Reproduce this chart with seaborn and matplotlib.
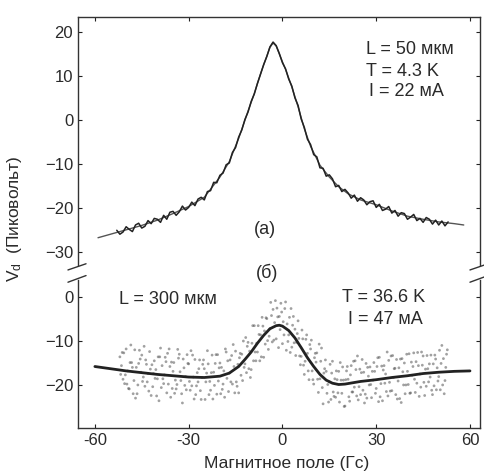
import numpy as np
import pandas as pd
import matplotlib
matplotlib.use("Agg")
import matplotlib.pyplot as plt
import seaborn as sns

# ---------------- data ----------------
# panel (a): L = 50 мкм, measured trace (1 Гс steps) and smooth fit
a_field = list(range(-53, 54))
a_signal = [
    -25.1, -26.0, -25.5, -24.3, -24.9, -25.4, -23.9, -23.5, -24.6, -24.2,
    -22.9, -23.6, -22.4, -22.6, -23.3, -21.7, -22.6, -21.0, -20.8, -21.7,
    -20.9, -19.6, -20.5, -19.9, -18.7, -19.5, -18.0, -17.6, -18.2, -16.3,
    -16.1, -14.2, -14.3, -12.6, -12.1, -10.2, -9.8, -7.4, -6.3, -3.9,
    -2.3, 0.1, 1.8, 4.2, 5.9, 8.3, 10.4, 12.6, 14.4, 16.6,
    17.7, 16.9, 15.1, 13.0, 11.6, 9.3, 7.7, 5.0, 3.3, 0.2,
    -1.7, -4.4, -5.6, -7.9, -8.4, -10.9, -11.0, -12.8, -12.5, -13.4,
    -15.2, -14.9, -16.3, -15.8, -16.6, -17.8, -17.1, -18.5, -17.7, -18.2,
    -19.3, -18.6, -18.4, -19.9, -19.2, -20.6, -20.3, -19.7, -21.2, -20.6,
    -21.9, -21.1, -21.3, -22.6, -22.1, -21.5, -22.9, -22.4, -23.3, -22.2,
    -22.6, -23.7, -22.8, -23.9, -23.0, -24.1, -23.2,
]
a_fit_field = [-59, -55, -50, -45, -40, -35, -30, -25, -20, -17, -14, -11, -9, -7,
               -5, -4, -3, -2, -1, 0, 1, 3, 5, 7, 9, 12, 15, 18, 21, 25, 30, 35,
               40, 45, 50, 55, 58]
a_fit = [-26.8, -26.0, -25.0, -24.0, -22.8, -21.3, -19.7, -17.6, -13.0, -9.5,
         -4.2, 2.0, 6.0, 10.5, 14.5, 16.5, 17.5, 16.8, 15.0, 13.2, 11.5, 7.5,
         3.0, -2.0, -6.0, -10.3, -13.0, -15.2, -16.8, -18.2, -19.3, -20.7,
         -21.9, -22.6, -23.2, -23.6, -23.9]

# panel (б): L = 300 мкм, four sweeps of noisy points and smooth fit
b_field_a = [x for x in range(-52, 53)]
b_field_b = [x + 0.25 for x in range(-52, 53)]
b_field_c = [x + 0.5 for x in range(-52, 53)]
b_field_d = [x + 0.75 for x in range(-52, 53)]
b_sweep_a = [
    -13.6, -18.7, -11.8, -20.9, -16.0, -23.0, -15.1, -13.2, -20.3, -17.4,
    -22.4, -14.5, -18.6, -11.6, -19.7, -21.8, -15.8, -16.9, -20.9, -13.0,
    -24.1, -18.1, -15.2, -20.2, -14.2, -19.3, -23.3, -16.3, -12.2, -21.2,
    -17.1, -22.1, -15.0, -19.8, -12.5, -17.3, -19.8, -12.3, -21.8, -13.0,
    -15.2, -10.3, -16.5, -6.5, -12.5, -8.6, -13.7, -4.9, -7.2, -2.8,
    -9.5, -4.4, -10.6, -1.1, -8.6, -11.4, -7.3, -5.4, -13.5, -17.6,
    -12.8, -11.8, -19.8, -12.7, -18.6, -24.3, -16.9, -19.3, -14.6, -22.8,
    -16.9, -21.9, -24.8, -18.7, -15.6, -20.5, -13.4, -22.2, -17.1, -23.0,
    -15.9, -18.9, -20.8, -13.7, -23.6, -17.5, -14.4, -21.3, -16.2, -19.1,
    -24.0, -15.0, -16.9, -21.8, -12.7, -19.6, -17.5, -13.4, -20.3, -15.2,
    -22.2, -14.1, -18.1, -11.0, -19.0,
]
b_sweep_b = [
    -17.6, -12.7, -19.8, -14.9, -22.0, -16.0, -12.1, -19.2, -14.3, -21.4,
    -15.4, -18.5, -13.6, -20.6, -17.7, -12.8, -22.8, -14.9, -19.9, -17.0,
    -14.1, -21.1, -19.2, -13.2, -22.2, -16.3, -18.3, -23.3, -15.2, -17.2,
    -20.1, -13.1, -22.0, -16.8, -18.5, -14.3, -10.8, -19.3, -13.8, -19.0,
    -9.2, -16.3, -10.5, -12.5, -6.5, -13.6, -7.7, -9.9, -1.2, -9.8,
    -2.5, -7.4, -5.6, -12.1, -4.6, -6.4, -13.3, -9.4, -7.5, -14.6,
    -16.8, -9.8, -13.8, -18.7, -14.6, -17.3, -21.9, -15.3, -21.6, -16.8,
    -23.9, -15.9, -18.8, -22.7, -21.6, -14.5, -23.4, -17.2, -24.1, -16.0,
    -19.9, -14.9, -15.8, -22.7, -16.6, -21.5, -19.4, -13.3, -22.2, -16.1,
    -14.0, -22.0, -19.9, -14.8, -18.7, -12.6, -20.5, -19.4, -13.3, -18.2,
    -15.2, -21.1, -12.1, -20.0, -16.0,
]
b_sweep_c = [
    -15.6, -19.7, -16.8, -10.9, -19.0, -22.0, -14.1, -18.2, -15.3, -12.4,
    -20.4, -16.5, -23.6, -15.6, -13.7, -19.8, -14.8, -21.9, -11.9, -19.0,
    -16.1, -13.1, -21.2, -18.2, -20.2, -14.3, -15.3, -19.3, -22.2, -13.2,
    -15.1, -19.1, -16.0, -22.8, -14.5, -19.3, -15.8, -20.3, -12.8, -10.0,
    -17.2, -12.3, -6.5, -14.5, -8.5, -4.6, -10.7, -11.9, -4.2, -5.8,
    -4.5, -1.4, -8.6, -6.1, -12.6, -4.4, -10.3, -13.4, -9.5, -9.6,
    -18.8, -16.8, -12.8, -21.7, -11.6, -16.3, -19.9, -23.3, -22.6, -18.8,
    -14.9, -18.9, -16.8, -23.7, -21.6, -16.5, -20.4, -14.2, -22.1, -18.0,
    -22.9, -16.9, -13.8, -19.7, -15.6, -12.5, -21.4, -18.3, -14.2, -23.1,
    -17.0, -20.0, -12.9, -17.8, -21.7, -15.6, -12.5, -22.4, -16.3, -13.2,
    -20.2, -16.1, -21.1, -14.0, -13.0,
]
b_sweep_d = [
    -12.6, -17.7, -20.8, -14.9, -12.0, -20.0, -17.1, -11.2, -19.3, -16.4,
    -17.4, -22.5, -13.6, -18.6, -14.7, -11.8, -20.8, -18.9, -13.9, -22.0,
    -20.1, -15.1, -12.2, -23.2, -17.2, -21.3, -14.3, -17.3, -19.2, -23.2,
    -13.1, -16.1, -21.0, -11.8, -21.5, -13.3, -21.8, -15.3, -17.8, -16.0,
    -11.2, -18.3, -14.5, -10.5, -14.5, -6.6, -4.7, -8.9, -10.2, -0.8,
    -11.5, -3.4, -2.6, -10.1, -2.6, -10.4, -8.3, -15.4, -15.5, -8.6,
    -10.8, -18.8, -14.8, -10.7, -20.6, -14.3, -23.9, -17.3, -18.6, -21.8,
    -18.9, -24.9, -15.8, -17.7, -14.6, -22.5, -16.4, -21.2, -15.1, -20.0,
    -16.9, -21.9, -23.8, -15.7, -19.6, -22.5, -13.4, -16.3, -23.2, -14.1,
    -20.0, -13.0, -21.9, -15.8, -14.7, -22.6, -15.5, -16.4, -19.3, -21.2,
    -13.2, -19.1, -15.1, -22.0, -12.0,
]
b_fit_field = [-60, -55, -50, -45, -40, -35, -30, -25, -20, -17, -14, -12, -10,
               -8, -6, -4, -2, -1, 0, 2, 4, 6, 8, 10, 12, 14, 16, 18, 20, 25,
               30, 35, 40, 45, 50, 55, 60]
b_fit = [-15.8, -16.3, -16.8, -17.2, -17.6, -17.9, -18.2, -18.3, -18.0, -17.3,
         -15.8, -14.2, -12.5, -10.5, -8.7, -7.2, -6.5, -6.4, -6.6, -7.6, -9.3,
         -11.5, -13.8, -15.8, -17.6, -18.9, -19.6, -19.9, -19.8, -19.2, -18.8,
         -18.3, -17.9, -17.4, -17.1, -16.9, -16.8]

x_ticks = [-60, -30, 0, 30, 60]
a_yticks = [-30, -20, -10, 0, 10, 20]
b_yticks = [-20, -10, 0]

# ---------------- style ----------------
sns.set_style("ticks")
plt.rcParams['font.family'] = ['Liberation Sans', 'DejaVu Sans']
plt.rcParams['mathtext.fontset'] = 'custom'
plt.rcParams['mathtext.rm'] = 'Liberation Sans'
plt.rcParams['mathtext.it'] = 'Liberation Sans:italic'
INK = '#222222'
TXT = '#2a2a2a'

W, H = 485, 473
fig = plt.figure(figsize=(W / 100, H / 100), dpi=100)


def fx(px):
    return px / W


def fy(py):
    return 1 - py / H


left, right = 78, 480
ax1 = fig.add_axes([fx(left), fy(265), (right - left) / W, (265 - 17) / H])
ax2 = fig.add_axes([fx(left), fy(428), (right - left) / W, (428 - 280) / H])

df_a = pd.DataFrame({'field': a_field, 'signal': a_signal})
df_afit = pd.DataFrame({'field': a_fit_field, 'signal': a_fit})
sns.lineplot(data=df_afit, x='field', y='signal', ax=ax1, color='#555555',
             lw=1.0, sort=False, estimator=None)
sns.lineplot(data=df_a, x='field', y='signal', ax=ax1, color=INK,
             lw=1.1, sort=False, estimator=None)

df_b = pd.DataFrame({
    'field': b_field_a + b_field_b + b_field_c + b_field_d,
    'signal': b_sweep_a + b_sweep_b + b_sweep_c + b_sweep_d,
})
df_bfit = pd.DataFrame({'field': b_fit_field, 'signal': b_fit})
sns.scatterplot(data=df_b, x='field', y='signal', ax=ax2, color='#555555',
                s=4, alpha=0.55, edgecolor='none', linewidth=0)
sns.lineplot(data=df_bfit, x='field', y='signal', ax=ax2, color=INK,
             lw=2.0, sort=False, estimator=None)

for ax in (ax1, ax2):
    ax.set_xlim(-65.4, 63.2)
    ax.set_xticks(x_ticks)
    ax.set_xlabel('')
    ax.set_ylabel('')
    ax.tick_params(direction='in', length=3, width=0.8, colors=INK,
                   labelsize=12, labelcolor=TXT, top=True, right=True,
                   labelright=False, labeltop=False)
    for s in ax.spines.values():
        s.set_color('#333333')
        s.set_linewidth(1.0)

ax1.set_ylim(-33.0, 23.4)
ax1.set_yticks(a_yticks)
ax1.spines['bottom'].set_visible(False)
ax1.tick_params(bottom=False, labelbottom=False)

ax2.set_ylim(-29.8, 3.9)
ax2.set_yticks(b_yticks)
ax2.spines['top'].set_visible(False)
ax2.tick_params(top=False)
ax2.set_xticklabels([str(t) for t in x_ticks])

# break marks
kw = dict(color='#333333', lw=1.0, clip_on=False)
for xa in (0, 1):
    ax1.plot([xa - 0.025, xa + 0.02], [-0.02, 0.005], transform=ax1.transAxes, **kw)
    ax2.plot([xa - 0.025, xa + 0.02], [0.985, 1.03], transform=ax2.transAxes, **kw)

# labels
fig.text(fx(287), fy(463), 'Магнитное поле (Гс)', ha='center', va='center',
         fontsize=12.5, color=TXT)
fig.text(fx(15), fy(219), '$\\mathrm{V_d}$  (Пиковольт)', ha='center', va='center',
         rotation=90, fontsize=12.5, color=TXT)

fs = 13
fig.text(fx(410), fy(50), 'L = 50 мкм', ha='center', va='center', fontsize=fs, color=TXT)
fig.text(fx(402), fy(72), 'T = 4.3 K', ha='center', va='center', fontsize=fs, color=TXT)
fig.text(fx(406), fy(92), 'I = 22 мА', ha='center', va='center', fontsize=fs, color=TXT)
fig.text(fx(265), fy(230), '(a)', ha='center', va='center', fontsize=fs, color=TXT)
fig.text(fx(267), fy(273), '(б)', ha='center', va='center', fontsize=fs, color=TXT)
fig.text(fx(168), fy(300), 'L = 300 мкм', ha='center', va='center', fontsize=fs, color=TXT)
fig.text(fx(384), fy(297), 'T = 36.6 K', ha='center', va='center', fontsize=fs, color=TXT)
fig.text(fx(385), fy(320), 'I = 47 мА', ha='center', va='center', fontsize=fs, color=TXT)

fig.savefig('out.png', dpi=100)
